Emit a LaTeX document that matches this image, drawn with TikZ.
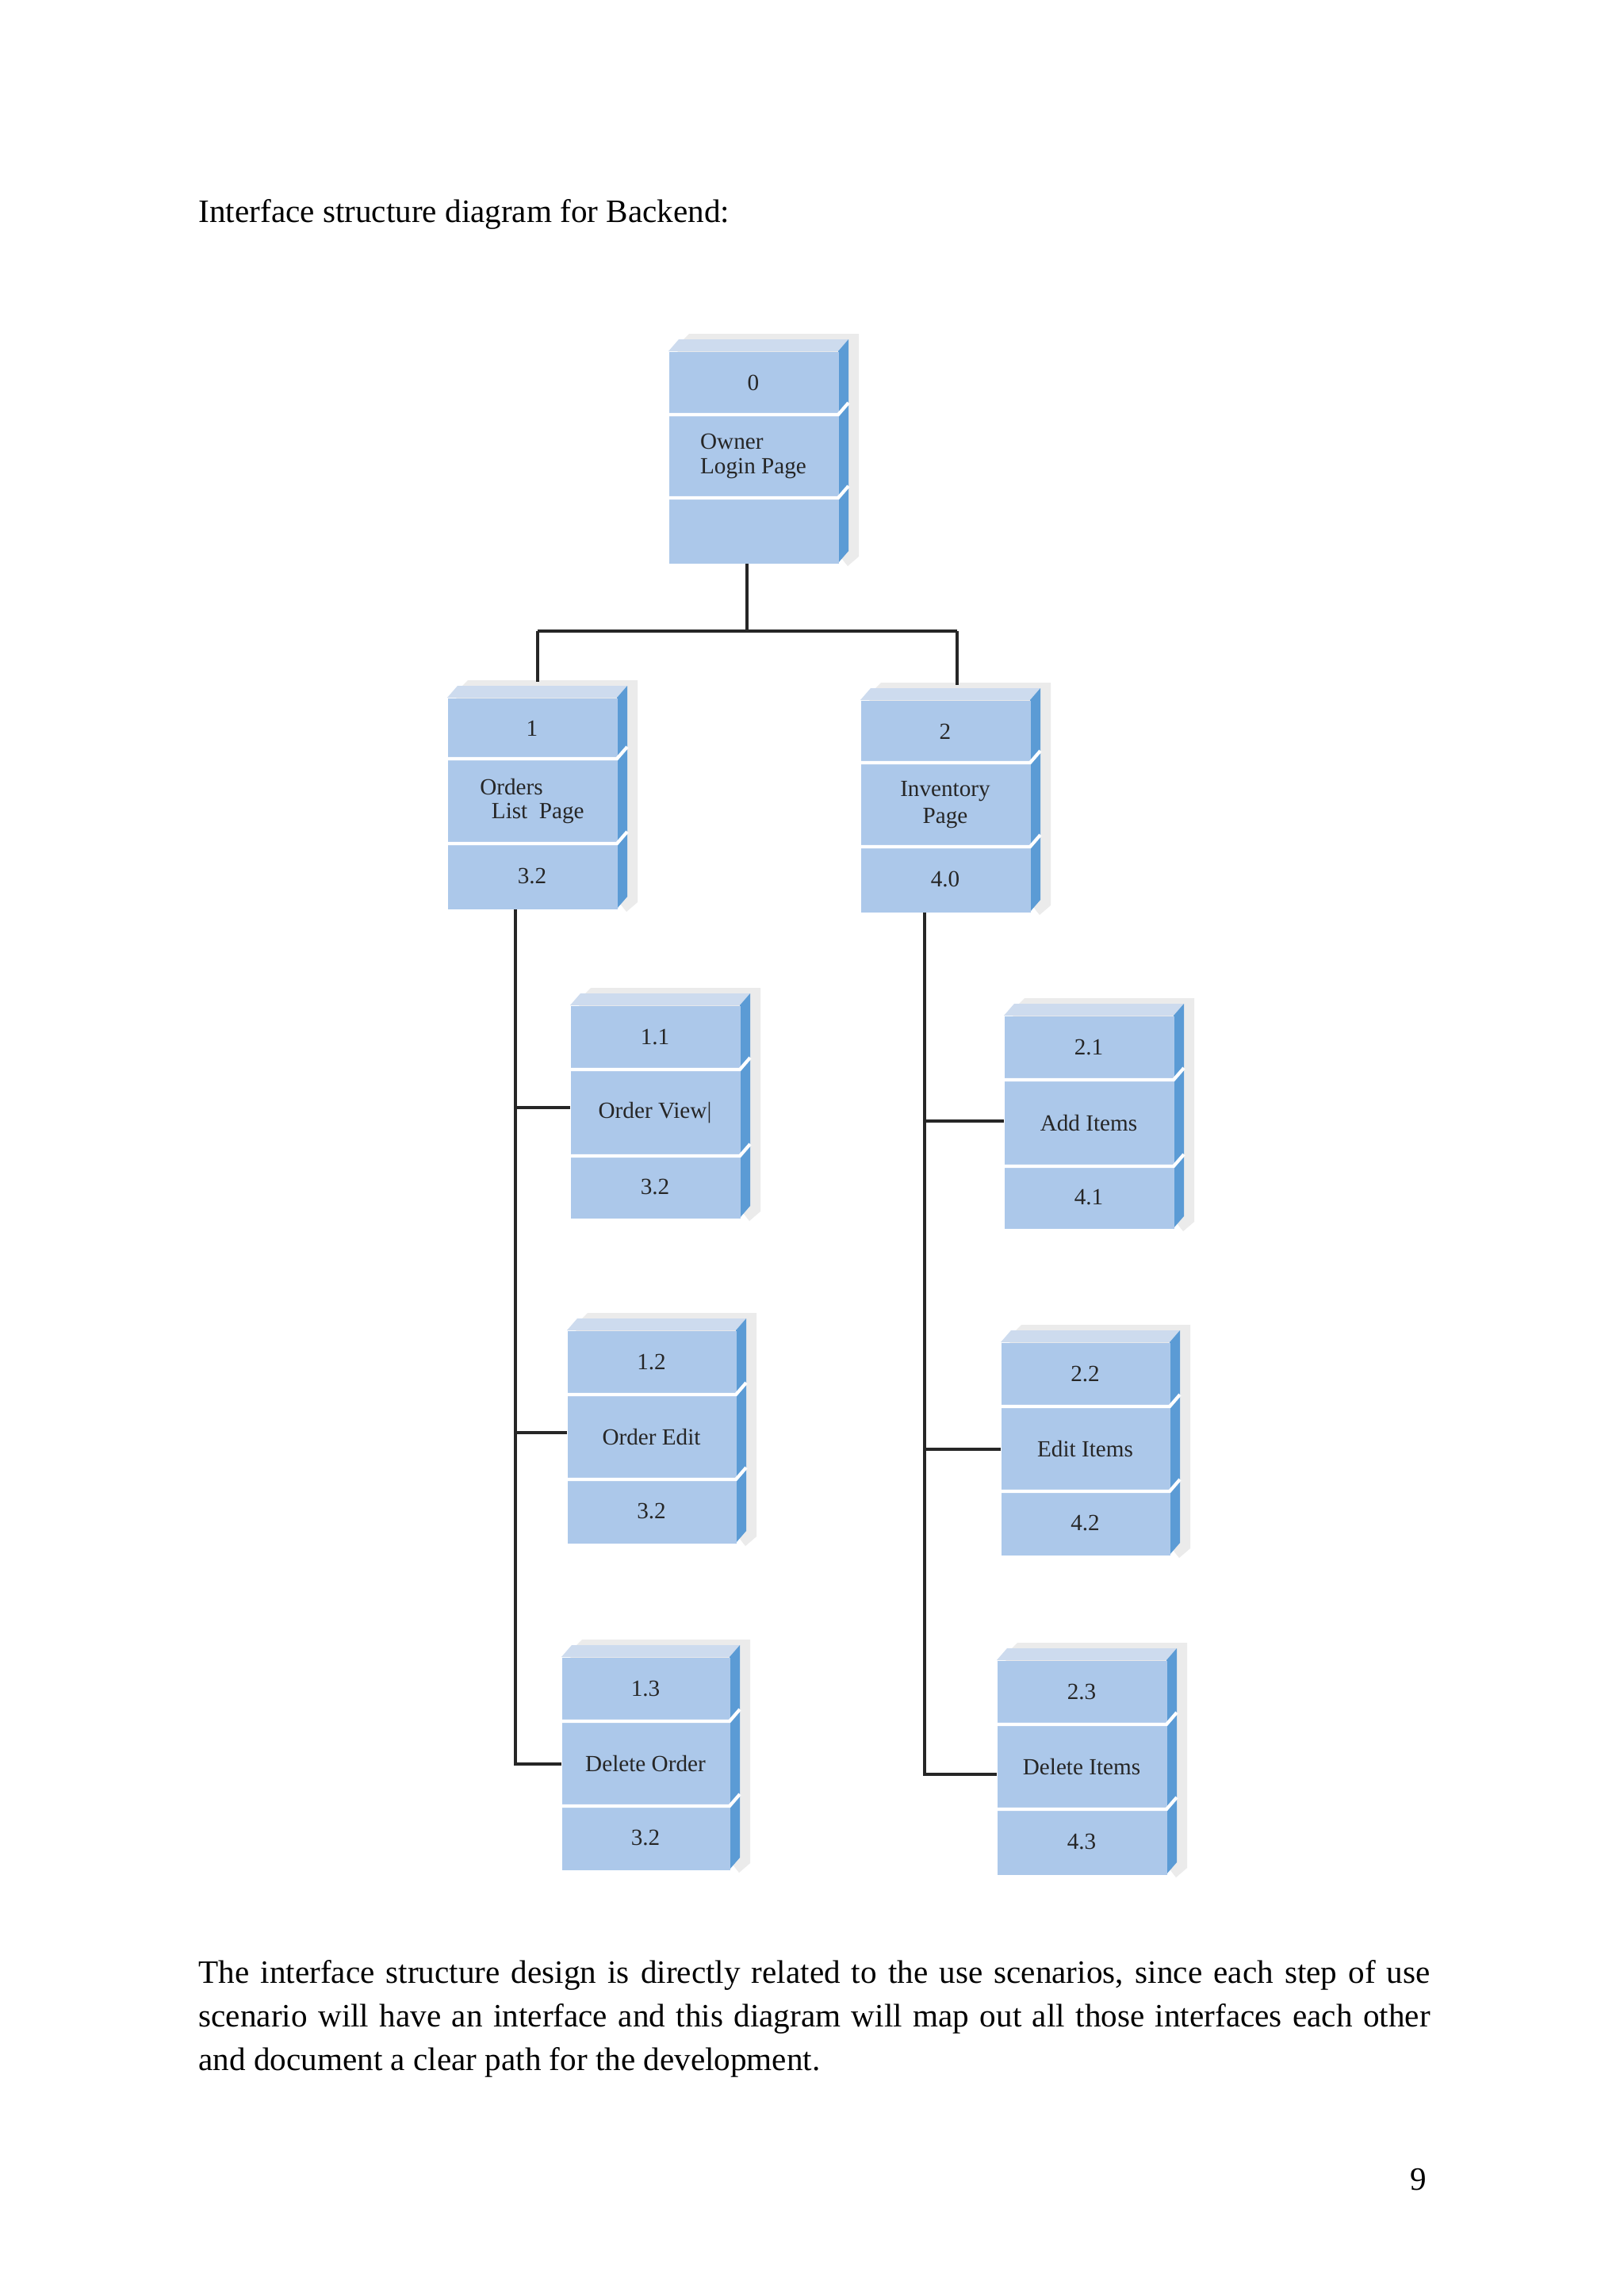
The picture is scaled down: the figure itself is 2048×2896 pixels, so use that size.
\documentclass[tikz,border=0pt]{standalone}
\usepackage{fontspec}
\setmainfont{Liberation Serif}
\begin{document}
\begin{tikzpicture}[x=0.01cm,y=-0.01cm,
  front/.style={fill=boxfront,draw=none},
  lbl/.style={font=\fontsize{8.3}{9.5}\selectfont,text=black!85,align=center,inner sep=0},
  conn/.style={draw=black!85,line width=0.9pt}]
\definecolor{boxfront}{RGB}{172,200,234}
\definecolor{boxside}{RGB}{91,155,213}
\definecolor{boxtop}{RGB}{205,219,238}
\useasboundingbox (0,0) rectangle (2048,2896);
\fill[white] (0,0) rectangle (2048,2896);
\newcommand{\ibox}[9]{%
  \fill[black!8] (#2+8,#3-4) -- (#2+26,#3-22) -- (#4+26,#3-22) -- (#4+26,#5-8) -- (#4+12,#5+4) -- cycle;
  \fill[boxtop] (#2,#3) -- (#2+13,#3-15) -- (#4+13,#3-15) -- (#4,#3) -- cycle;
  \fill[boxside] (#4,#3) -- (#4+13,#3-15) -- (#4+13,#5-15) -- (#4,#5) -- cycle;
  \node[front,minimum width=(#4-#2)*0.01cm,minimum height=(#5-#3)*0.01cm,inner sep=0,anchor=north west] (#1) at (#2,#3) {};
  \draw[white,line width=1.2pt] (#2,#6) -- (#4,#6) -- (#4+13,#6-15);
  \draw[white,line width=1.2pt] (#2,#7) -- (#4,#7) -- (#4+13,#7-15);
  \node[lbl] at ({(#2+#4)/2},{(#3+#6)/2}) {#8};
  \node[lbl] at ({(#2+#4)/2},{(#6+#7)/2}) {#9};
}
\newcommand{\bottxt}[5]{\node[lbl] at ({(#1+#2)/2},{(#3+#4)/2}) {#5};}

\node[anchor=base west,inner sep=0,font=\fontsize{11.7}{15.6}\selectfont] (title) at (250,280) {Interface structure diagram for Backend:};

\ibox{b0}{843}{443}{1057}{710}{523}{628}{0}{\shortstack[l]{Owner\\Login Page}}
\ibox{b1}{564}{880}{778}{1146}{957}{1064}{1}{\shortstack[l]{Orders\\\enspace List\enspace Page}}
\bottxt{564}{778}{1064}{1146}{3.2}
\ibox{b2}{1085}{883}{1299}{1150}{962}{1068}{2}{Inventory\\Page}
\bottxt{1085}{1299}{1068}{1150}{4.0}
\ibox{b11}{719}{1268}{933}{1536}{1349}{1458}{1.1}{Order View|}
\bottxt{719}{933}{1458}{1536}{3.2}
\ibox{b12}{715}{1678}{928}{1946}{1759}{1866}{1.2}{Order Edit}
\bottxt{715}{928}{1866}{1946}{3.2}
\ibox{b13}{708}{2090}{920}{2358}{2171}{2278}{1.3}{Delete Order}
\bottxt{708}{920}{2278}{2358}{3.2}
\ibox{b21}{1266}{1281}{1480}{1549}{1362}{1471}{2.1}{Add Items}
\bottxt{1266}{1480}{1471}{1549}{4.1}
\ibox{b22}{1262}{1693}{1475}{1961}{1774}{1881}{2.2}{Edit Items}
\bottxt{1262}{1475}{1881}{1961}{4.2}
\ibox{b23}{1257}{2094}{1471}{2364}{2175}{2282}{2.3}{Delete Items}
\bottxt{1257}{1471}{2282}{2364}{4.3}

\coordinate (j0) at (942,796);
\draw[conn] (b0.south -| j0) -- (j0);
\draw[conn] (678,796) -- (1207,796);
\draw[conn] (678,796) -- (678,860);
\draw[conn] (1207,796) -- (1207,864);
\coordinate (lt) at (650,2225);
\draw[conn] (b1.south -| lt) -- (lt) -- (b13.west |- lt);
\draw[conn] (650,1397) -- (b11.west |- 650,1397);
\draw[conn] (650,1807) -- (b12.west |- 650,1807);
\coordinate (rt) at (1166,2238);
\draw[conn] (b2.south -| rt) -- (rt) -- (b23.west |- rt);
\draw[conn] (1166,1414) -- (b21.west |- 1166,1414);
\draw[conn] (1166,1828) -- (b22.west |- 1166,1828);

\node[anchor=north west,inner sep=0,text width=15.52cm,align=justify,font=\fontsize{11.7}{15.6}\selectfont] (para) at (250,2472)
{The interface structure design is directly related to the use scenarios, since each step of use\linebreak scenario will have an interface and this diagram will map out all those interfaces each other\linebreak and document a clear path for the development.};
\node[anchor=base,inner sep=0,font=\fontsize{11.7}{15.6}\selectfont] (pg) at (1789,2762) {9};
\end{tikzpicture}
\end{document}
